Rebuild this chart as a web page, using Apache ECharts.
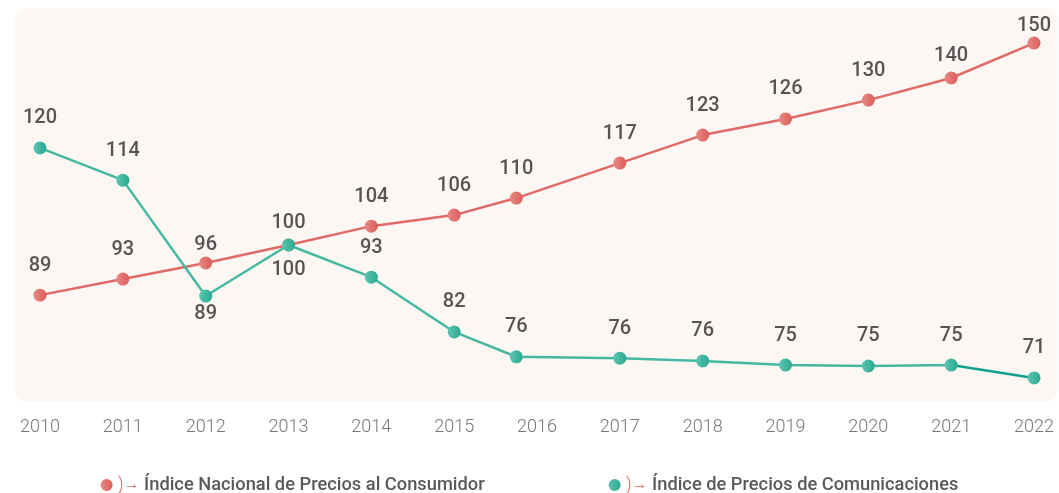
<!DOCTYPE html>
<html>
<head>
<meta charset="utf-8">
<title>INPC vs Índice de Precios de Comunicaciones</title>
<script src="https://cdn.jsdelivr.net/npm/echarts@6/dist/echarts.min.js"></script>
<style>
  html, body { margin: 0; padding: 0; background: #fff; }
  #chart { width: 1059px; height: 493px; }
</style>
</head>
<body>
<div id="chart"></div>
<script>
// años (posición en el eje x, tal como aparecen los puntos)
const pointYears = [2010, 2011, 2012, 2013, 2014, 2015, 2015.75, 2017, 2018, 2019, 2020, 2021, 2022];

// Índice Nacional de Precios al Consumidor
const inpcValues = [89.1, 92.6, 96.1, 100, 104.1, 106.5, 110.2, 117.8, 123.9, 127.4, 131.5, 136.3, 143.9];
const inpcLabels = [89, 93, 96, 100, 104, 106, 110, 117, 123, 126, 130, 140, 150];

// Índice de Precios de Comunicaciones
const comValues = [121.1, 114.1, 88.9, 100, 93.0, 81.1, 75.7, 75.4, 74.8, 73.9, 73.7, 73.9, 71.1];
const comLabels = [120, 114, 89, 100, 93, 82, 76, 76, 76, 75, 75, 75, 71];

const seriesNames = ['Índice Nacional de Precios al Consumidor', 'Índice de Precios de Comunicaciones'];

const RED = '#e06a66';
const TEAL = '#45b8a2';
const TEAL_DARK = '#10a08b';

// ajustes de etiqueta por punto (para que no se encimen)
const inpcLabelTweaks = {
  2: { distance: 1 },
  3: { position: 'bottom', distance: 8 },
  11: { distance: 6 },
  12: { distance: 1 }
};
const comLabelTweaks = {
  2: { position: 'bottom', distance: 1 },
  3: { distance: 6 }
};

function buildData(values, labels, tweaks) {
  return values.map((v, i) => {
    const item = { value: [pointYears[i], v], labelText: labels[i] };
    if (tweaks[i]) item.label = tweaks[i];
    return item;
  });
}

function dotColor(light, dark) {
  return new echarts.graphic.LinearGradient(0, 0, 1, 0, [
    { offset: 0, color: light },
    { offset: 1, color: dark }
  ]);
}

const chart = echarts.init(document.getElementById('chart'));

const labelStyle = {
  show: true,
  position: 'top',
  distance: 13,
  fontFamily: 'Roboto',
  fontSize: 20,
  fontWeight: 500,
  color: '#555555',
  formatter: p => p.data.labelText
};

const option = {
  animation: false,
  backgroundColor: '#ffffff',
  graphic: [
    {
      type: 'rect',
      z: -1,
      left: 15,
      top: 8,
      shape: { width: 1042, height: 394, r: 12 },
      style: { fill: '#fdf7f4' },
      silent: true
    }
  ],
  grid: {
    left: 40,
    right: 25,
    top: 15,
    bottom: 110
  },
  legend: {
    top: 471,
    left: 'center',
    itemGap: 124,
    itemWidth: 12,
    itemHeight: 12,
    icon: 'circle',
    data: seriesNames,
    formatter: name => '{arc|)}{ar|→} ' + name,
    textStyle: {
      fontFamily: 'Roboto',
      fontSize: 18.3,
      fontWeight: 500,
      color: '#595959',
      rich: {
        arc: { color: RED, fontSize: 18, fontWeight: 300, verticalAlign: 'middle' },
        ar: { color: RED, fontSize: 16, fontWeight: 300, verticalAlign: 'middle' }
      }
    }
  },
  xAxis: {
    type: 'value',
    min: 2010,
    max: 2022,
    interval: 1,
    axisLine: { show: false },
    axisTick: { show: false },
    splitLine: { show: false },
    axisLabel: {
      margin: 35,
      fontFamily: 'Roboto',
      fontSize: 18,
      fontWeight: 300,
      color: '#777777',
      formatter: v => String(v)
    }
  },
  yAxis: {
    type: 'value',
    min: 70,
    max: 150,
    show: false,
    splitLine: { show: false }
  },
  series: [
    {
      name: seriesNames[0],
      type: 'line',
      data: buildData(inpcValues, inpcLabels, inpcLabelTweaks),
      symbol: 'circle',
      symbolSize: 13,
      color: RED,
      lineStyle: { color: RED, width: 2.5 },
      itemStyle: { color: dotColor('#e98884', '#d95e5a') },
      label: labelStyle,
      z: 3
    },
    {
      name: seriesNames[1],
      type: 'line',
      data: buildData(comValues, comLabels, comLabelTweaks),
      symbol: 'circle',
      symbolSize: 13,
      color: TEAL,
      lineStyle: {
        width: 2.5,
        color: new echarts.graphic.LinearGradient(0, 0, 1, 0, [
          { offset: 0, color: TEAL },
          { offset: 0.916, color: TEAL },
          { offset: 0.917, color: TEAL_DARK },
          { offset: 1, color: TEAL_DARK }
        ])
      },
      itemStyle: { color: dotColor('#5cc5b1', '#2aa891') },
      label: labelStyle,
      z: 4
    }
  ]
};

chart.setOption(option);
</script>
</body>
</html>
